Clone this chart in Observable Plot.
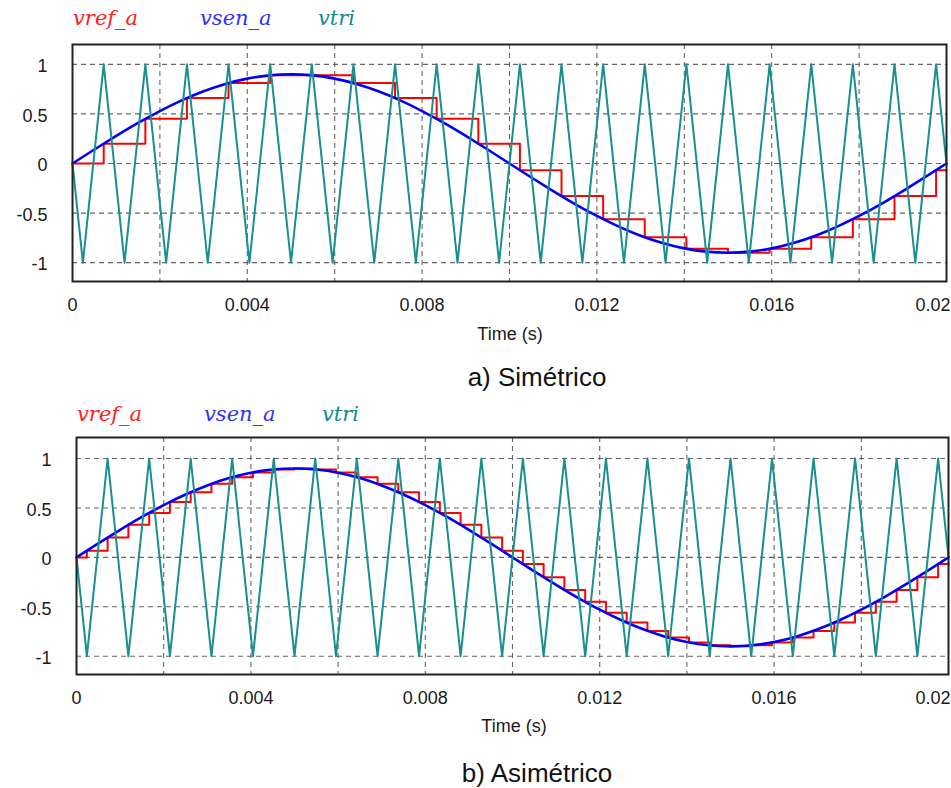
<!DOCTYPE html>
<html>
<head>
<meta charset="utf-8">
<script src="https://cdn.jsdelivr.net/npm/d3@7"></script>
<script src="https://cdn.jsdelivr.net/npm/@observablehq/plot@0.6"></script>
<style>
  body { margin: 0; background: #fff; }
  #wrap { position: relative; width: 951px; height: 788px; overflow: hidden; background: #fff; }
  #wrap > svg, #wrap > div { position: absolute; left: 0; }
  #p1 { top: 0; }
  #p2 { top: 393px; }
  #overlay { position: absolute; left: 0; top: 0; pointer-events: none; }
</style>
</head>
<body>
<div id="wrap">
  <div id="p1"></div>
  <div id="p2"></div>
</div>
<script>
// ---------------- DATA ----------------
// Time axis ticks and grid
const xTickValues = [0, 0.004, 0.008, 0.012, 0.016];
const xLastTick = [0.02];
const xGridValues = [0.002, 0.004, 0.006, 0.008, 0.01, 0.012, 0.014, 0.016, 0.018];
const yTickValues = [-1, -0.5, 0, 0.5, 1];

// vsen_a : sinusoidal reference (read every 0.5 ms)
const senTimes = [0, 0.0005, 0.001, 0.0015, 0.002, 0.0025, 0.003, 0.0035, 0.004, 0.0045,
  0.005, 0.0055, 0.006, 0.0065, 0.007, 0.0075, 0.008, 0.0085, 0.009, 0.0095,
  0.01, 0.0105, 0.011, 0.0115, 0.012, 0.0125, 0.013, 0.0135, 0.014, 0.0145,
  0.015, 0.0155, 0.016, 0.0165, 0.017, 0.0175, 0.018, 0.0185, 0.019, 0.0195, 0.02];
const senValues = [0, 0.141, 0.278, 0.409, 0.529, 0.636, 0.728, 0.802, 0.856, 0.889,
  0.900, 0.889, 0.856, 0.802, 0.728, 0.636, 0.529, 0.409, 0.278, 0.141,
  0, -0.141, -0.278, -0.409, -0.529, -0.636, -0.728, -0.802, -0.856, -0.889,
  -0.900, -0.889, -0.856, -0.802, -0.728, -0.636, -0.529, -0.409, -0.278, -0.141, 0];

// vtri : triangular carrier vertices (troughs / peaks)
const triTimes = [0, 0.000238, 0.000714, 0.001190, 0.001667, 0.002143, 0.002619, 0.003095, 0.003571,
  0.004048, 0.004524, 0.005000, 0.005476, 0.005952, 0.006429, 0.006905, 0.007381,
  0.007857, 0.008333, 0.008810, 0.009286, 0.009762, 0.010238, 0.010714, 0.011190,
  0.011667, 0.012143, 0.012619, 0.013095, 0.013571, 0.014048, 0.014524, 0.015000,
  0.015476, 0.015952, 0.016429, 0.016905, 0.017381, 0.017857, 0.018333, 0.018810,
  0.019286, 0.019762, 0.02];
const triValues = [0, -1, 1, -1, 1, -1, 1, -1, 1, -1, 1, -1, 1, -1, 1, -1, 1, -1, 1, -1, 1, -1,
  1, -1, 1, -1, 1, -1, 1, -1, 1, -1, 1, -1, 1, -1, 1, -1, 1, -1, 1, -1, 1, 0];

// vref_a (a) symmetric sampling: step changes at carrier peaks
const symTimes = [0, 0.000714, 0.001667, 0.002619, 0.003571, 0.004524, 0.005476, 0.006429,
  0.007381, 0.008333, 0.009286, 0.010238, 0.011190, 0.012143, 0.013095, 0.014048,
  0.015000, 0.015952, 0.016905, 0.017857, 0.018810, 0.019762, 0.02];
const symValues = [0, 0.200, 0.450, 0.660, 0.811, 0.890, 0.890, 0.811, 0.660, 0.450, 0.200,
  -0.067, -0.329, -0.561, -0.744, -0.860, -0.900, -0.860, -0.744, -0.561, -0.329, -0.067, -0.067];

// vref_a (b) asymmetric sampling: step changes at carrier peaks and troughs
const asymTimes = [0, 0.000238, 0.000714, 0.001190, 0.001667, 0.002143, 0.002619, 0.003095, 0.003571,
  0.004048, 0.004524, 0.005000, 0.005476, 0.005952, 0.006429, 0.006905, 0.007381,
  0.007857, 0.008333, 0.008810, 0.009286, 0.009762, 0.010238, 0.010714, 0.011190,
  0.011667, 0.012143, 0.012619, 0.013095, 0.013571, 0.014048, 0.014524, 0.015000,
  0.015476, 0.015952, 0.016429, 0.016905, 0.017381, 0.017857, 0.018333, 0.018810,
  0.019286, 0.019762, 0.02];
const asymValues = [0, 0.067, 0.200, 0.329, 0.450, 0.561, 0.660, 0.744, 0.811, 0.860, 0.890,
  0.900, 0.890, 0.860, 0.811, 0.744, 0.660, 0.561, 0.450, 0.329, 0.200, 0.067,
  -0.067, -0.200, -0.329, -0.450, -0.561, -0.660, -0.744, -0.811, -0.860, -0.890,
  -0.900, -0.890, -0.860, -0.811, -0.744, -0.660, -0.561, -0.450, -0.329, -0.200, -0.067, -0.067];

const legendLabels = ["vref_a", "vsen_a", "vtri"];
const captions = ["a) Simétrico", "b) Asimétrico"];
const xAxisTitle = "Time (s)";

// ---------------- BUILD ----------------
const zip = (ts, vs) => ts.map((t, i) => ({t, v: vs[i]}));
const senData = zip(senTimes, senValues);
const triData = zip(triTimes, triValues);

const COLORS = {ref: "#ff0000", sen: "#0000ff", tri: "#1a8f8f"};
const gridStyle = {stroke: "#666", strokeOpacity: 1, strokeWidth: 1.1, strokeDasharray: "5,4"};
const fmtX = d => String(+d.toFixed(3));

function panel(refData, o) {
  return Plot.plot({
    width: 951,
    height: 395,
    marginLeft: o.left,
    marginRight: o.right,
    marginTop: 44,
    marginBottom: 114,
    x: {domain: [0, 0.02]},
    y: {domain: o.ydom},
    style: {fontFamily: "'Liberation Sans', Arial, sans-serif", fontSize: "18px", color: "#1a1a1a", background: "transparent", overflow: "visible"},
    marks: [
      Plot.gridX(xGridValues, gridStyle),
      Plot.gridY(yTickValues, gridStyle),
      Plot.line(refData, {x: "t", y: "v", curve: "step-after", stroke: COLORS.ref, strokeWidth: 2}),
      Plot.line(senData, {x: "t", y: "v", curve: "natural", stroke: COLORS.sen, strokeWidth: 2.6}),
      Plot.line(triData, {x: "t", y: "v", stroke: COLORS.tri, strokeWidth: 2}),
      Plot.frame({stroke: "#222", strokeWidth: 2}),
      Plot.axisX(xTickValues, {tickSize: 0, tickPadding: 17, label: null, fontSize: 18, tickFormat: fmtX}),
      Plot.axisX(xLastTick, {tickSize: 0, tickPadding: 17, label: null, fontSize: 18, tickFormat: fmtX,
        textAnchor: "end", dx: o.right === 5 ? 4 : 2}),
      Plot.axisY(yTickValues, {tickSize: 0, tickPadding: 25, label: null, fontSize: 18,
        tickFormat: d => String(d), dy: 2})
    ]
  });
}

document.getElementById("p1").append(panel(zip(symTimes, symValues), {left: 72, right: 5, ydom: [-1.19, 1.2]}));
document.getElementById("p2").append(panel(zip(asymTimes, asymValues), {left: 76, right: 3, ydom: [-1.185, 1.213]}));

// overlay texts
const ov = d3.select("#wrap").append("svg").attr("id", "overlay").attr("width", 951).attr("height", 788);
const legendColors = ["#ff2020", "#3030ff", "#138a8a"];
const legendX = [[73, 200, 318], [77, 204, 322]];
const legendY = [25, 421];
[0, 1].forEach(p => {
  legendLabels.forEach((lab, i) => {
    ov.append("text").attr("x", legendX[p][i]).attr("y", legendY[p])
      .attr("fill", legendColors[i])
      .attr("font-family", "'DejaVu Serif', serif").attr("font-style", "italic").attr("font-size", 21)
      .text(lab);
  });
});
[[510, 340], [514, 732]].forEach(([x, y]) => {
  ov.append("text").attr("x", x).attr("y", y).attr("text-anchor", "middle")
    .attr("font-family", "'Liberation Sans', Arial, sans-serif").attr("font-size", 18).attr("fill", "#1a1a1a")
    .text(xAxisTitle);
});
[[537, 386], [537, 782]].forEach(([x, y], i) => {
  ov.append("text").attr("x", x).attr("y", y).attr("text-anchor", "middle")
    .attr("font-family", "'Liberation Sans', Arial, sans-serif").attr("font-size", 26).attr("fill", "#111")
    .text(captions[i]);
});
</script>
</body>
</html>
